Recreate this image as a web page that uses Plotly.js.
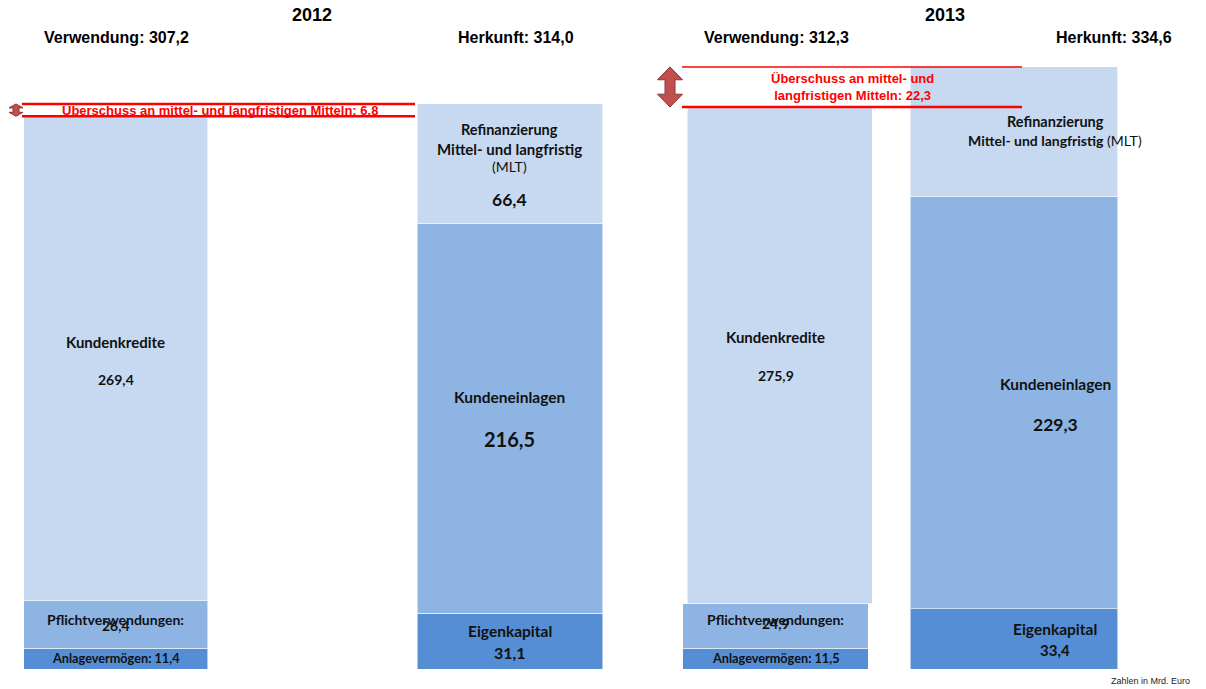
<!DOCTYPE html>
<html><head><meta charset="utf-8">
<script src="https://cdn.plot.ly/plotly-3.0.1.min.js"></script>
<style>html,body{margin:0;padding:0;background:#fff}#chart{width:1206px;height:689px}</style>
</head><body><div id="chart"></div>
<script>
// ---- data (Zahlen in Mrd. Euro) ----
const years = ['2012', '2013'];
const sides = ['Verwendung', 'Herkunft'];
// Verwendung (bottom -> top)
const anlagevermoegen = [11.4, 11.5];
const pflichtverwendungen = [26.4, 24.9];
const kundenkredite = [269.4, 275.9];
// Herkunft (bottom -> top)
const eigenkapital = [31.1, 33.4];
const kundeneinlagen = [216.5, 229.3];
const refinanzierungMLT = [66.4, 71.9];

// ---- styles / layout constants ----
const C_DARK = '#558ED5', C_MID = '#8EB4E3', C_LIGHT = '#C6D9F1';
const W = 1206, H = 689, MT = 50, MB = 20;
const SPLIT = 620 / W;
const widths = [[0.467, 0.472], [0.776, 0.872]];
const ranges = [[-0.2944, 1.2792], [-0.652, 1.805]];
const axes = [['x', 'xaxis'], ['x2', 'xaxis2']];
const LBL = 'Lato, "Noto Sans", sans-serif';
const HDR = '"Liberation Sans", Arial, sans-serif';
const fmt = v => v.toFixed(1).replace('.', ',');

const traces = [];
const levels = [
  [anlagevermoegen, eigenkapital, C_DARK],
  [pflichtverwendungen, kundeneinlagen, C_MID],
  [kundenkredite, refinanzierungMLT, C_LIGHT]
];
years.forEach((yr, i) => {
  levels.forEach(([v, h, col], li) => {
    const t = {
      type: 'bar', x: sides, y: [v[i], h[i]], xaxis: axes[i][0], yaxis: 'y',
      width: widths[i], marker: {color: col, line: {color: 'rgba(255,255,255,0.55)', width: 1}},
      hoverinfo: 'skip', showlegend: false, cliponaxis: false
    };
    if (i === 1 && li === 2) t.offset = [-widths[i][0] / 2 + 0.017, -widths[i][1] / 2];
    traces.push(t);
  });
});

const ann = [];
function lab(i, side, y, text, size, shift, bold = true, xs = 0) {
  ann.push({xref: axes[i][0], yref: 'y', x: side, y: y, text: bold ? '<b>' + text + '</b>' : text,
    showarrow: false, yshift: shift, xshift: xs, xanchor: 'center',
    font: {family: LBL, size: size, color: '#111'}});
}
function paperY(px) { return (H - MB - px) / (H - MT - MB); }
function hdr(xpx, ypx, text, size, color = '#000', bold = true, fam = HDR, anchor = 'center') {
  ann.push({xref: 'paper', yref: 'paper', x: xpx / W, y: paperY(ypx), xanchor: anchor, yanchor: 'middle',
    text: bold ? '<b>' + text + '</b>' : text, showarrow: false, font: {family: fam, size: size, color: color}});
}

years.forEach((yr, i) => {
  const a = anlagevermoegen[i], p = pflichtverwendungen[i], k = kundenkredite[i];
  const e = eigenkapital[i], ke = kundeneinlagen[i], m = refinanzierungMLT[i];
  const hx = i ? 41 : 0; // 2013 Herkunft labels sit right of the bar centre
  // Verwendung
  lab(i, 'Verwendung', a + p + k / 2, 'Kundenkredite', 15, i ? 18 : 17);
  lab(i, 'Verwendung', a + p + k / 2, fmt(k), 14, i ? -20 : -21);
  lab(i, 'Verwendung', a + p / 2, 'Pflichtverwendungen:', 14, i ? 6 : 5);
  lab(i, 'Verwendung', a + p / 2, fmt(p), 14, i ? 2 : -1);
  lab(i, 'Verwendung', a / 2, 'Anlagevermögen: ' + fmt(a), 12.7, 1);
  // Herkunft
  lab(i, 'Herkunft', e / 2, 'Eigenkapital', 15.5, 10, true, hx);
  lab(i, 'Herkunft', e / 2, fmt(e), i ? 15 : 16, -11, true, hx);
  lab(i, 'Herkunft', e + ke / 2, 'Kundeneinlagen', 15.5, i ? 19 : 21, true, hx);
  lab(i, 'Herkunft', e + ke / 2, fmt(ke), i ? 17.5 : 20, i ? -22 : -21, true, hx);
  const mc = e + ke + m / 2;
  if (i === 0) {
    lab(i, 'Herkunft', mc, 'Refinanzierung', 14.5, 34);
    lab(i, 'Herkunft', mc, 'Mittel- und langfristig', 15, 15);
    lab(i, 'Herkunft', mc, '(MLT)', 14, -3, false);
    lab(i, 'Herkunft', mc, fmt(m), 17.5, -36);
  } else {
    lab(i, 'Herkunft', mc, 'Refinanzierung', 14.5, 10, true, hx);
    lab(i, 'Herkunft', mc, '<b>Mittel- und langfristig</b> (MLT)', 14, -9, false, hx);
  }
});

const totV = years.map((y, i) => anlagevermoegen[i] + pflichtverwendungen[i] + kundenkredite[i]);
const totH = years.map((y, i) => eigenkapital[i] + kundeneinlagen[i] + refinanzierungMLT[i]);

// headers
hdr(312, 15, years[0], 18);
hdr(945, 15, years[1], 18);
hdr(116, 38, 'Verwendung: ' + fmt(totV[0]), 16);
hdr(516, 38, 'Herkunft: ' + fmt(totH[0]), 16);
hdr(776, 38, 'Verwendung: ' + fmt(totV[1]), 16);
hdr(1114, 38, 'Herkunft: ' + fmt(totH[1]), 16);
hdr(1192, 681, 'Zahlen in Mrd. Euro', 9, '#222', false, HDR, 'right');

// surplus markers
const shapes = [];
const RED = '#FF0000';
const bands = [
  {x0: 22, x1: 415, ax: 16, hw: 7, sw: 3, w0: 2.5, w1: 2.5, tx: 220,
   text: 'Überschuss an mittel- und langfristigen Mitteln: ' + fmt(totH[0] - totV[0])},
  {x0: 682, x1: 1022, ax: 670, hw: 12.5, sw: 5, w0: 2.5, w1: 1.5, tx: 852,
   text: 'Überschuss an mittel- und<br>langfristigen Mitteln: ' + fmt(totH[1] - totV[1])}
];
bands.forEach((b, i) => {
  const lo = totV[i], hi = totH[i];
  shapes.push({type: 'line', xref: 'paper', yref: 'y', x0: b.x0 / W, x1: b.x1 / W, y0: lo, y1: lo, line: {color: RED, width: b.w0}});
  shapes.push({type: 'line', xref: 'paper', yref: 'y', x0: b.x0 / W, x1: b.x1 / W, y0: hi, y1: hi, line: {color: RED, width: b.w1}});
  const h = (hi - lo) * 0.32;
  const path = `M ${-b.sw},${lo + h} L ${-b.hw},${lo + h} L 0,${lo} L ${b.hw},${lo + h} L ${b.sw},${lo + h} ` +
    `L ${b.sw},${hi - h} L ${b.hw},${hi - h} L 0,${hi} L ${-b.hw},${hi - h} L ${-b.sw},${hi - h} Z`;
  shapes.push({type: 'path', xref: 'paper', xsizemode: 'pixel', xanchor: b.ax / W, yref: 'y', path: path,
    fillcolor: '#C0504D', line: {color: '#8C3836', width: 1}});
  ann.push({xref: 'paper', yref: 'y', x: b.tx / W, y: (lo + hi) / 2, xanchor: 'center', yanchor: 'middle',
    text: '<b>' + b.text + '</b>', showarrow: false,
    font: {family: HDR, size: 13, color: RED}, align: 'center'});
});

const hiddenX = (dom, rng) => ({domain: dom, range: rng, type: 'category', visible: false, fixedrange: true});
const layout = {
  width: W, height: H, margin: {l: 0, r: 0, t: MT, b: MB}, paper_bgcolor: '#fff', plot_bgcolor: '#fff',
  barmode: 'stack', showlegend: false,
  xaxis: hiddenX([0, SPLIT], ranges[0]),
  xaxis2: hiddenX([SPLIT, 1], ranges[1]),
  yaxis: {range: [0, 344], visible: false, fixedrange: true},
  annotations: ann, shapes: shapes
};
Plotly.newPlot('chart', traces, layout, {displayModeBar: false, staticPlot: true});
</script>
</body></html>
